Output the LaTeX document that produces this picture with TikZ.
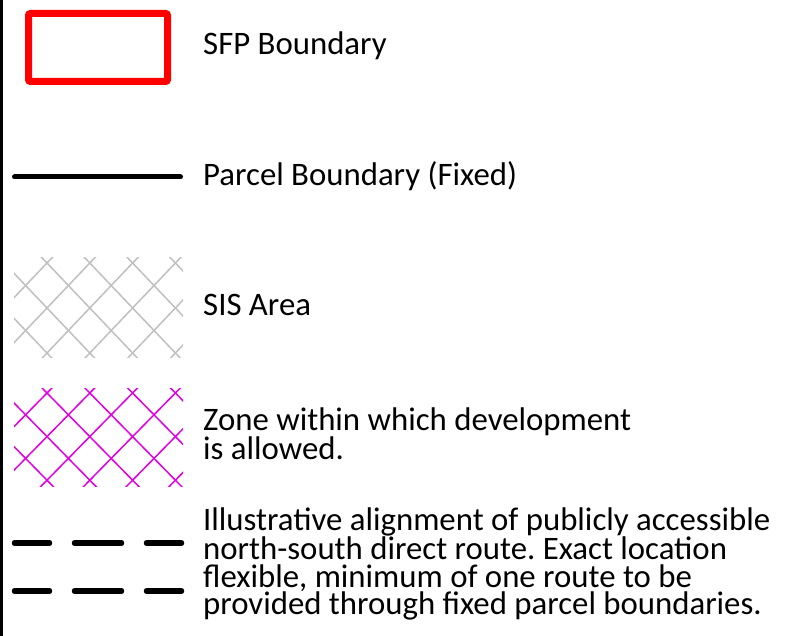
\documentclass[tikz,border=0pt]{standalone}
\usepackage{fontspec}
\setmainfont{Carlito}
\frenchspacing
\definecolor{sfpred}{RGB}{255,0,0}
\definecolor{sisgrey}{RGB}{192,192,192}
\definecolor{zonemag}{RGB}{225,0,225}
\tikzset{
  lbl/.style={anchor=base west, inner sep=0pt, font=\fontsize{32.8}{27.3}\selectfont, align=left},
  hatchline/.style={line width=1.5pt},
  dashseg/.style={line width=5.5pt, line cap=round},
}
\begin{document}
\begin{tikzpicture}[x=1pt,y=-1pt]
\useasboundingbox (0,0) rectangle (795,636);
\fill[white] (0,0) rectangle (795,636);
% left border
\draw[line width=3pt] (1.5,0) -- (1.5,636);
% SFP boundary
\draw[sfpred, line width=7pt, rounded corners=2pt] (28.5,13.5) rectangle (167.5,81.5);
\node[lbl] (sfp) at (203,54.5) {SFP Boundary};
% parcel boundary
\coordinate (pa) at (14.5,177);
\coordinate (pb) at (180.5,177);
\draw[line width=5pt, line cap=round] (pa) -- (pb);
\node[lbl] (parcel) at (203,186) {Parcel Boundary (Fixed)};
% SIS hatch
\begin{scope}
\clip (14,258) rectangle (183,357);
\foreach \k in {-6,...,6}{
  \draw[sisgrey,hatchline] ({47+2*\k*21.4-6*21.4},{263-6*22.5}) -- ({47+2*\k*21.4+6*21.4},{263+6*22.5});
  \draw[sisgrey,hatchline] ({47+2*\k*21.4-6*21.4},{263+6*22.5}) -- ({47+2*\k*21.4+6*21.4},{263-6*22.5});
}
\end{scope}
\node[lbl] (sis) at (203,315.5) {SIS Area};
% zone hatch
\begin{scope}
\clip (14,388) rectangle (183,486);
\foreach \k in {-6,...,6}{
  \draw[zonemag,hatchline] ({47+2*\k*21.4-6*21.4},{393-6*21.8}) -- ({47+2*\k*21.4+6*21.4},{393+6*21.8});
  \draw[zonemag,hatchline] ({47+2*\k*21.4-6*21.4},{393+6*21.8}) -- ({47+2*\k*21.4+6*21.4},{393-6*21.8});
}
\end{scope}
\node[lbl, font=\fontsize{32.8}{28.3}\selectfont] (zone) at (203,459) {Zone within which development\\is allowed.};
% dashed route
\foreach \y in {543,591}{
  \draw[dashseg] (14.5,\y) -- (49.5,\y);
  \draw[dashseg] (74.5,\y) -- (121.5,\y);
  \draw[dashseg] (146.5,\y) -- (181.5,\y);
}
\node[lbl] (route) at (203,614.5) {Illustrative alignment of publicly accessible\\north-south direct route. Exact location\\flexible, minimum of one route to be\\provided through fixed parcel boundaries.};
\end{tikzpicture}
\end{document}
